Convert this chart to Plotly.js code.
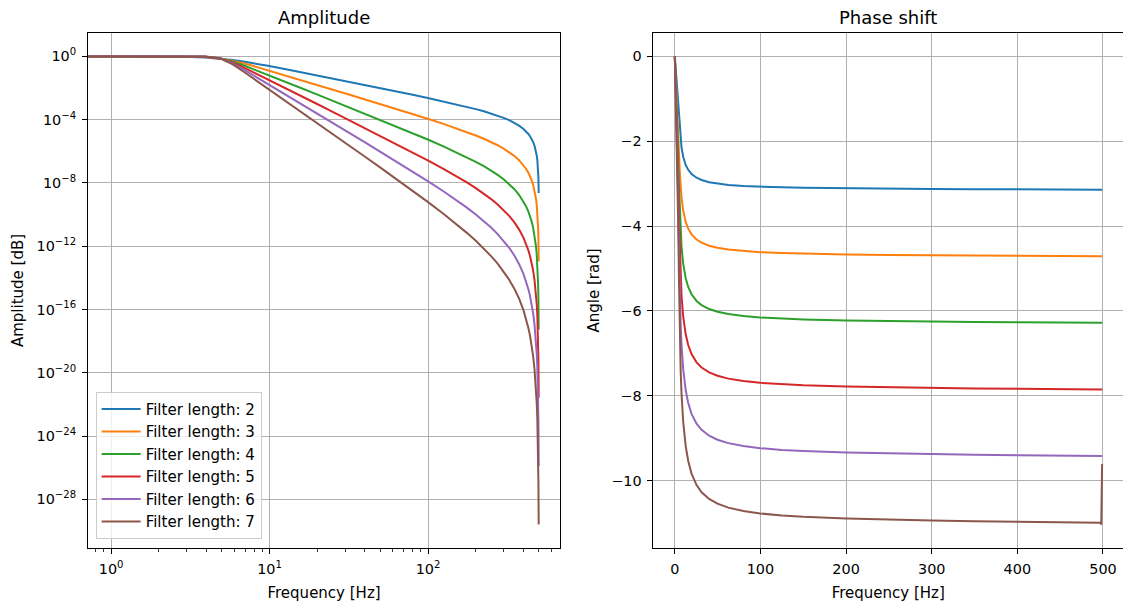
<!DOCTYPE html>
<html>
<head>
<meta charset="utf-8">
<script src="https://cdn.plot.ly/plotly-3.0.1.min.js"></script>
<style>html,body{margin:0;padding:0;background:#fff}#chart{width:1123px;height:607px}</style>
</head>
<body>
<div id="chart"></div>
<script>
// ---- data ----
const seriesNames = ['Filter length: 2','Filter length: 3','Filter length: 4','Filter length: 5','Filter length: 6','Filter length: 7'];
const colors = ['#1f77b4','#ff7f0e','#2ca02c','#d62728','#9467bd','#8c564b'];

// Amplitude panel: frequency [Hz] and amplitude given as a power of ten
const ampFreq = [0.5,0.977,1.953,2.93,3.906,4.883,5.859,6.836,7.813,9.766,12.7,15.63,19.53,25.39,31.25,40.04,49.8,62.5,80.08,99.6,125,150.4,175.8,200.2,225,250,275,299.8,325,349.6,375,400.4,415,429.7,440,450.2,460,469.7,475,479.5,485,489.3,492.2,495.1,497.1,498.0,499.0];
const ampExp2 = [0,0,-0.005,-0.0242,-0.0688,-0.1405,-0.2302,-0.3263,-0.4213,-0.5963,-0.8149,-0.9926,-1.1854,-1.4134,-1.5945,-1.8116,-2.0037,-2.205,-2.4277,-2.6276,-2.8421,-3.0246,-3.1871,-3.3313,-3.4707,-3.6077,-3.7447,-3.884,-4.033,-4.1907,-4.3732,-4.5877,-4.7336,-4.905,-5.0467,-5.2117,-5.4038,-5.6487,-5.8157,-5.9884,-6.2605,-6.5509,-6.8276,-7.236,-7.6796,-8.0319,-8.6339];
const ampExp3 = [0,0,-0.0008,-0.0086,-0.0445,-0.1356,-0.2775,-0.4384,-0.5959,-0.8764,-1.215,-1.4855,-1.7768,-2.1198,-2.3917,-2.7173,-3.0055,-3.3075,-3.6415,-3.9414,-4.2632,-4.537,-4.7807,-4.997,-5.206,-5.4115,-5.6171,-5.826,-6.0496,-6.2861,-6.5599,-6.8816,-7.1003,-7.3576,-7.5701,-7.8176,-8.1058,-8.473,-8.7236,-8.9825,-9.3908,-9.8264,-10.2414,-10.854,-11.519,-12.0479,-12.951];
const ampExp4 = [0,0,-0.0001,-0.003,-0.0283,-0.1309,-0.3294,-0.5604,-0.7813,-1.1644,-1.6195,-1.9806,-2.3691,-2.8264,-3.1889,-3.6231,-4.0073,-4.41,-4.8553,-5.2552,-5.6842,-6.0493,-6.3742,-6.6627,-6.9414,-7.2154,-7.4894,-7.768,-8.0661,-8.3815,-8.7465,-9.1755,-9.4671,-9.8101,-10.0934,-10.4234,-10.8077,-11.2973,-11.6314,-11.9767,-12.5211,-13.1018,-13.6552,-14.472,-15.359,-16.0638,-17.268];
const ampExp5 = [0,0,0,-0.001,-0.0177,-0.1264,-0.3848,-0.6885,-0.9715,-1.4542,-2.0244,-2.4758,-2.9614,-3.533,-3.9862,-4.5289,-5.0091,-5.5125,-6.0692,-6.5691,-7.1053,-7.5616,-7.9678,-8.3284,-8.6767,-9.0192,-9.3618,-9.71,-10.0826,-10.4769,-10.9331,-11.4694,-11.8339,-12.2626,-12.6168,-13.0293,-13.5096,-14.1217,-14.5393,-14.9709,-15.6514,-16.3773,-17.0691,-18.09,-19.199,-20.0798,-21.585];
const ampExp6 = [0,0,0,-0.0004,-0.0109,-0.1218,-0.4434,-0.8202,-1.164,-1.745,-2.4292,-2.971,-3.5536,-4.2396,-4.7834,-5.4347,-6.011,-6.615,-7.283,-7.8829,-8.5264,-9.0739,-9.5613,-9.994,-10.412,-10.823,-11.2341,-11.652,-12.0991,-12.5722,-13.1197,-13.7632,-14.2007,-14.7151,-15.1402,-15.6351,-16.2115,-16.946,-17.4471,-17.9651,-18.7816,-19.6528,-20.4829,-21.708,-23.039,-24.0957,-25.902];
const ampExp7 = [0,0,0,-0.0001,-0.0067,-0.1175,-0.5045,-0.9536,-1.357,-2.0359,-2.8341,-3.466,-4.1459,-4.9462,-5.5807,-6.3405,-7.0128,-7.7175,-8.4968,-9.1967,-9.9474,-10.5862,-11.1549,-11.6597,-12.1474,-12.6269,-13.1065,-13.594,-14.1156,-14.6676,-15.3063,-16.0571,-16.5675,-17.1676,-17.6635,-18.241,-18.9134,-19.7703,-20.355,-20.9593,-21.9119,-22.9282,-23.8967,-25.326,-26.879,-28.1117,-29.6];

// Phase panel: frequency [Hz] and angle [rad]
const phaseFreq = [0,0.977,1.953,2.93,3.906,4.883,5.859,6.836,7.813,9.766,12.7,15.63,19.53,25.39,31.25,40.04,49.8,62.5,80.08,99.6,125,150.4,200.2,250,299.8,349.6,400.4,450.2,497.1,498.0,499.0];
const phase2 = [0,-0.2797,-0.5777,-0.9006,-1.2318,-1.5373,-1.7924,-1.9933,-2.1488,-2.3658,-2.5591,-2.674,-2.7721,-2.8601,-2.9141,-2.965,-3.0003,-3.0297,-3.0551,-3.0729,-3.088,-3.0981,-3.1111,-3.1194,-3.1254,-3.1302,-3.1344,-3.1381,-3.1414,-3.1415,-3.1415];
const phase3 = [0,-0.3932,-0.8043,-1.259,-1.7716,-2.2971,-2.744,-3.0761,-3.3176,-3.6329,-3.9013,-4.062,-4.1954,-4.3168,-4.392,-4.4633,-4.5129,-4.5543,-4.5901,-4.6153,-4.6366,-4.6509,-4.6692,-4.681,-4.6895,-4.6963,-4.7022,-4.7074,-4.7121,-4.7122,-4.7123];
const phase4 = [0,-0.513,-1.0441,-1.6249,-2.3006,-3.0542,-3.7069,-4.1662,-4.4826,-4.8871,-5.2304,-5.4358,-5.609,-5.7669,-5.8649,-5.9579,-6.0226,-6.0766,-6.1234,-6.1563,-6.1841,-6.2029,-6.2268,-6.2421,-6.2533,-6.2622,-6.2699,-6.2767,-6.2828,-6.2829,-6.2831];
const phase5 = [0,-0.6352,-1.2907,-1.9987,-2.8272,-3.8094,-4.6768,-5.2547,-5.6419,-6.1328,-6.5526,-6.8057,-7.0196,-7.2149,-7.3362,-7.4512,-7.5313,-7.5982,-7.6561,-7.6969,-7.7313,-7.7545,-7.7841,-7.8031,-7.817,-7.828,-7.8375,-7.846,-7.8535,-7.8536,-7.8538];
const phase6 = [0,-0.7578,-1.5401,-2.3784,-3.3541,-4.5632,-5.6489,-6.3401,-6.7953,-7.3747,-7.8729,-8.1739,-8.429,-8.6619,-8.8066,-8.9439,-9.0396,-9.1194,-9.1885,-9.2372,-9.2783,-9.306,-9.3414,-9.3641,-9.3806,-9.3938,-9.4052,-9.4152,-9.4242,-9.4244,-9.4246];
const phase7 = [0,-0.8816,-1.7897,-2.7609,-3.884,-5.3157,-6.6237,-7.4224,-7.9456,-8.6145,-9.1917,-9.5411,-9.8375,-10.1084,-10.2766,-10.4363,-10.5475,-10.6404,-10.7208,-10.7774,-10.8252,-10.8574,-10.8985,-10.925,-10.9442,-10.9595,-10.9727,-10.9845,-10.9949,-11.04,-9.61];

// Tick labels
const ampYTickExp = [0,-4,-8,-12,-16,-20,-24,-28];
const ampXTickExp = [0,1,2];
const phaseXTicks = [0,100,200,300,400,500];
const phaseYTicks = [0,-2,-4,-6,-8,-10];

// ---- figure ----
const ampExps = [ampExp2,ampExp3,ampExp4,ampExp5,ampExp6,ampExp7];
const phases = [phase2,phase3,phase4,phase5,phase6,phase7];
const supTxt = e => '10<sup>' + String(e).replace('-', '\u2212') + '</sup>';
const numTxt = v => String(v).replace('-', '\u2212');

const traces = [];
ampExps.forEach((ex, i) => {
  traces.push({
    x: ampFreq, y: ex.map(v => Math.pow(10, v)),
    type: 'scatter', mode: 'lines', name: seriesNames[i],
    line: {color: colors[i], width: 2},
    legendgroup: 'g' + i, xaxis: 'x', yaxis: 'y', hoverinfo: 'skip'
  });
});
phases.forEach((ph, i) => {
  traces.push({
    x: phaseFreq, y: ph,
    type: 'scatter', mode: 'lines', name: seriesNames[i],
    line: {color: colors[i], width: 2},
    legendgroup: 'g' + i, showlegend: false, xaxis: 'x2', yaxis: 'y2', hoverinfo: 'skip'
  });
});

const FONT = 'DejaVu Sans, Liberation Sans, sans-serif';
const tickFont = {family: FONT, size: 14.4, color: '#000'};
const labFont = {family: FONT, size: 15, color: '#000'};
const common = {
  showline: true, linecolor: '#000', linewidth: 1,
  ticks: 'outside', ticklen: 5, tickwidth: 1, tickcolor: '#000',
  showgrid: true, gridcolor: '#b0b0b0', gridwidth: 1,
  zeroline: false, tickfont: tickFont, automargin: false, ticklabelstandoff: 3
};

const layout = {
  width: 1123, height: 607,
  margin: {l: 88.3, r: 0, t: 33.3, b: 58.7, pad: 0},
  paper_bgcolor: '#fff', plot_bgcolor: '#fff',
  font: {family: FONT, size: 15, color: '#000'},
  showlegend: true,
  legend: {
    x: 0.0074, y: 0.3035, xanchor: 'left', yanchor: 'top',
    bgcolor: 'rgba(255,255,255,0.8)', bordercolor: '#cccccc', borderwidth: 1,
    font: labFont, itemwidth: 39,
    tracegroupgap: 6, traceorder: 'normal'
  },
  xaxis: Object.assign({}, common, {
    type: 'log', domain: [0, 0.45617], range: [-0.1457, 2.8335],
    mirror: true, anchor: 'y',
    tickmode: 'array', tickvals: ampXTickExp.map(e => Math.pow(10, e)), ticktext: ampXTickExp.map(supTxt),
    minor: {tickmode: 'linear', dtick: 'D1', ticks: 'outside', ticklen: 3, tickwidth: 0.8, tickcolor: '#000', showgrid: false},
    title: {text: 'Frequency [Hz]', font: labFont, standoff: 11}
  }),
  yaxis: Object.assign({}, common, {
    type: 'log', domain: [0, 1], range: [-31.08, 1.48],
    mirror: true, anchor: 'x',
    tickmode: 'array', tickvals: ampYTickExp.map(e => Math.pow(10, e)), ticktext: ampYTickExp.map(supTxt),
    title: {text: 'Amplitude [dB]', font: labFont, standoff: 9}
  }),
  xaxis2: Object.assign({}, common, {
    domain: [0.54634, 1], range: [-24.95, 523.4],
    mirror: true, anchor: 'y2',
    tickmode: 'array', tickvals: phaseXTicks, ticktext: phaseXTicks.map(numTxt),
    title: {text: 'Frequency [Hz]', font: labFont, standoff: 11}
  }),
  yaxis2: Object.assign({}, common, {
    domain: [0, 1], range: [-11.592, 0.552],
    mirror: false, anchor: 'x2',
    tickmode: 'array', tickvals: phaseYTicks, ticktext: phaseYTicks.map(numTxt),
    title: {text: 'Angle [rad]', font: labFont, standoff: 7}
  }),
  annotations: [
    {text: 'Amplitude', xref: 'paper', yref: 'paper', x: 0.22809, y: 1, xanchor: 'center', yanchor: 'bottom',
     yshift: 3, showarrow: false, font: {family: FONT, size: 18, color: '#000'}},
    {text: 'Phase shift', xref: 'paper', yref: 'paper', x: 0.77317, y: 1, xanchor: 'center', yanchor: 'bottom',
     yshift: 3, showarrow: false, font: {family: FONT, size: 18, color: '#000'}}
  ]
};

Plotly.newPlot('chart', traces, layout, {staticPlot: true, displayModeBar: false});
</script>
</body>
</html>
